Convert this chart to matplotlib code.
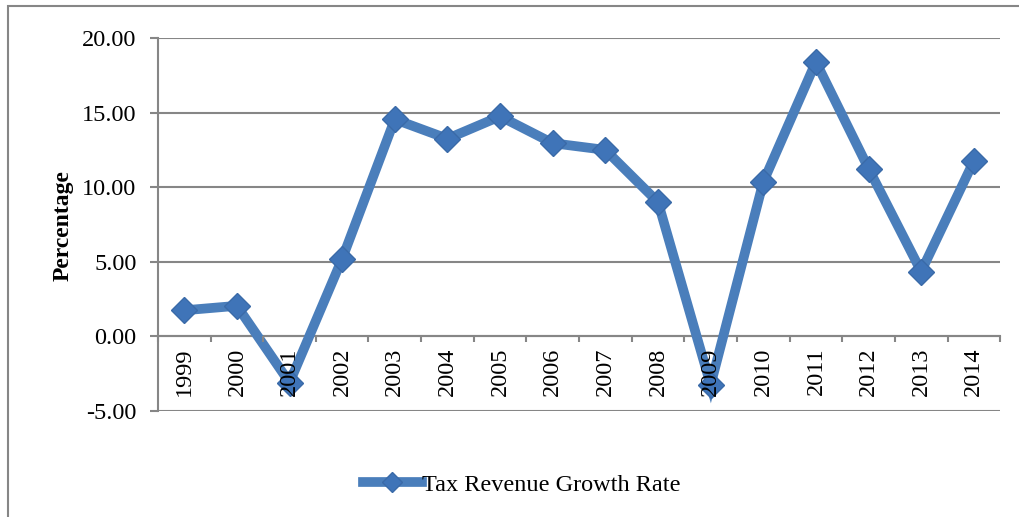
import matplotlib as mpl
mpl.use('Agg')
import matplotlib.pyplot as plt
from matplotlib.patches import Rectangle
from matplotlib.ticker import FixedLocator, FormatStrFormatter

# data
years = ['1999', '2000', '2001', '2002', '2003', '2004', '2005', '2006',
         '2007', '2008', '2009', '2010', '2011', '2012', '2013', '2014']
growth = [1.75, 2.05, -3.1, 5.2, 14.55, 13.25, 14.75, 12.95,
          12.5, 9.0, -3.25, 10.35, 18.4, 11.25, 4.35, 11.75]
y_ticks = [-5, 0, 5, 10, 15, 20]

plt.rcParams['font.family'] = ['Liberation Serif', 'DejaVu Serif']
line_color = '#4a7ebb'
grid_color = '#868686'

fig = plt.figure(figsize=(10.19, 5.17), dpi=100)
ax = fig.add_axes([0.155, 0.205, 0.8265, 0.7215])

x = list(range(len(years)))
ax.plot(x, growth, color=line_color, lw=7, marker='D', markersize=13,
        markerfacecolor='#3f74b8', markeredgecolor='#3a6aa8', markeredgewidth=1,
        solid_joinstyle='miter', label='Tax Revenue Growth Rate', zorder=3)

ax.set_xlim(-0.5, len(years) - 0.5)
ax.set_ylim(-5, 20)
ax.set_yticks(y_ticks)
ax.yaxis.set_major_formatter(FormatStrFormatter('%.2f'))
ax.yaxis.grid(True, color=grid_color, lw=1.5)
ax.set_axisbelow(True)
# year labels sit on top of the line, as in the original
ax.xaxis.set_zorder(4)

for s in ['top', 'right']:
    ax.spines[s].set_visible(False)
ax.spines['bottom'].set_position(('data', 0))
ax.spines['bottom'].set_color(grid_color)
ax.spines['bottom'].set_linewidth(1.5)
ax.spines['left'].set_color(grid_color)
ax.spines['left'].set_linewidth(1.5)

ax.set_xticks(x)
ax.set_xticklabels(years, rotation=90, va='top')
ax.xaxis.set_minor_locator(FixedLocator([i - 0.5 for i in range(len(years) + 1)]))
ax.tick_params(axis='x', which='major', length=0, pad=8, labelsize=17.5)
ax.tick_params(axis='x', which='minor', length=4.5, width=1.5, color=grid_color, direction='out')
ax.tick_params(axis='y', length=5.5, width=1.5, color=grid_color, pad=10, labelsize=17.5)

fig.text(63 / 1019, 1 - 226 / 517, 'Percentage', rotation=90, fontsize=17,
         fontweight='bold', ha='center', va='center')

fig.legend(loc='center', bbox_to_anchor=(0.512, 0.062), frameon=False,
           fontsize=17.5, handlelength=2.4, handletextpad=0.0, markerscale=0.75)

# outer chart border (only left and top visible in the crop)
fig.patches.append(Rectangle((8 / 1019, -0.1), 1.2, 1.1 - 6 / 517, transform=fig.transFigure,
                             fill=False, edgecolor=grid_color, lw=1.5))

fig.savefig('out.png', dpi=100)
plt.close(fig)
